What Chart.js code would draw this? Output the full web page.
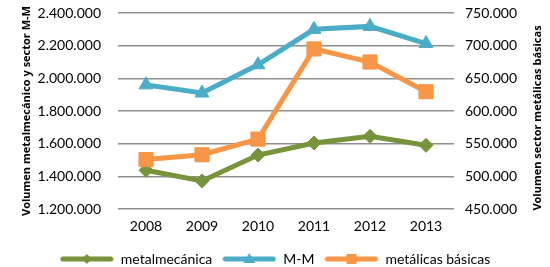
<!DOCTYPE html>
<html lang="es">
<head>
    <meta charset="UTF-8">
    <title>Volumen sector metalmecánico</title>
    <script src="https://cdn.jsdelivr.net/npm/chart.js"></script>
    <style>
        html, body { margin: 0; padding: 0; background: #fff; }
        #chart { display: block; }
    </style>
</head>
<body>
    <canvas id="chart" width="550" height="267"></canvas>

    <script>
        // datos
        const years = ['2008', '2009', '2010', '2011', '2012', '2013'];
        const metalmecanica = [1437000, 1372000, 1530000, 1604000, 1645000, 1590000];
        const mm = [1960000, 1910000, 2083000, 2300000, 2318000, 2213000];
        const metalicasBasicas = [525600, 533000, 557000, 695000, 675000, 629500];

        const green = '#77933C';
        const blue = '#4BACC6';
        const orange = '#F79646';
        const font = "Lato, 'Open Sans', sans-serif";

        function fmt(v) {
            return String(v).replace(/\B(?=(\d{3})+(?!\d))/g, '.');
        }

        // icono de leyenda: línea con marcador en el centro
        function legendIcon(color, style) {
            const c = document.createElement('canvas');
            c.width = 54; c.height = 14;
            const g = c.getContext('2d');
            g.strokeStyle = color;
            g.fillStyle = color;
            g.lineWidth = 5;
            g.lineCap = 'round';
            g.beginPath(); g.moveTo(3, 7); g.lineTo(51, 7); g.stroke();
            g.beginPath();
            if (style === 'rectRot') {
                g.moveTo(27, 2); g.lineTo(32, 7); g.lineTo(27, 12); g.lineTo(22, 7);
            } else if (style === 'triangle') {
                g.moveTo(27, 1); g.lineTo(33, 11); g.lineTo(21, 11);
            } else {
                g.rect(22, 2, 10, 10);
            }
            g.closePath(); g.fill();
            return c;
        }

        const rightTitle = {
            id: 'rightTitle',
            afterDraw(chart) {
                const ctx = chart.ctx;
                const area = chart.chartArea;
                ctx.save();
                ctx.translate(538, (area.top + area.bottom) / 2 + 7);
                ctx.rotate(-Math.PI / 2);
                ctx.font = "bold 11px 'Open Sans', sans-serif";
                ctx.fillStyle = '#000';
                ctx.textAlign = 'center';
                ctx.textBaseline = 'middle';
                ctx.fillText('Volumen sector metálicas básicas', 0, 0);
                ctx.restore();
            }
        };

        new Chart(document.getElementById('chart'), {
            type: 'line',
            data: {
                labels: years,
                datasets: [{
                    label: 'metalmecánica',
                    data: metalmecanica,
                    yAxisID: 'y',
                    borderColor: green,
                    backgroundColor: green,
                    borderWidth: 5,
                    pointStyle: 'rectRot',
                    pointRadius: 7,
                    pointBorderWidth: 1,
                    order: 2
                }, {
                    label: 'M-M',
                    data: mm,
                    yAxisID: 'y',
                    borderColor: blue,
                    backgroundColor: blue,
                    borderWidth: 5,
                    pointStyle: 'triangle',
                    pointRadius: 8,
                    pointBorderWidth: 1,
                    order: 1
                }, {
                    label: 'metálicas básicas',
                    data: metalicasBasicas,
                    yAxisID: 'y1',
                    borderColor: orange,
                    backgroundColor: orange,
                    borderWidth: 5,
                    pointStyle: 'rect',
                    pointRadius: 10,
                    pointBorderWidth: 1,
                    order: 0
                }]
            },
            options: {
                responsive: false,
                animation: false,
                layout: { padding: { top: 13, left: 0, right: 0, bottom: -9 } },
                plugins: {
                    tooltip: { enabled: false },
                    legend: {
                        position: 'bottom',
                        labels: {
                            usePointStyle: true,
                            pointStyleWidth: 54,
                            padding: 10,
                            color: '#000',
                            font: { family: font, size: 14 },
                            generateLabels(chart) {
                                const styles = ['rectRot', 'triangle', 'rect'];
                                return chart.data.datasets.map((ds, i) => ({
                                    text: ds.label,
                                    fillStyle: ds.borderColor,
                                    strokeStyle: ds.borderColor,
                                    pointStyle: legendIcon(ds.borderColor, styles[i]),
                                    datasetIndex: i,
                                    hidden: false,
                                    lineWidth: 0
                                }));
                            }
                        }
                    }
                },
                scales: {
                    x: {
                        offset: true,
                        grid: { display: false, drawTicks: false },
                        border: { display: false },
                        ticks: { color: '#000', padding: 9, font: { family: font, size: 14 } },
                        afterFit(s) { s.height = 33; }
                    },
                    y: {
                        position: 'left',
                        min: 1200000,
                        max: 2400000,
                        grid: { color: '#8f8f8f', lineWidth: 1.5, drawTicks: false },
                        border: { display: false },
                        ticks: {
                            stepSize: 200000,
                            padding: 17,
                            color: '#000',
                            font: { family: font, size: 14 },
                            callback: v => fmt(v)
                        },
                        title: {
                            display: true,
                            text: 'Volumen metalmecánico y sector M-M',
                            color: '#000',
                            padding: { top: 20, bottom: 0 },
                            font: { family: "'Open Sans', sans-serif", size: 11, weight: 'bold' }
                        },
                        afterFit(s) { s.width = 118; s.paddingTop = 0; s.paddingBottom = 0; }
                    },
                    y1: {
                        position: 'right',
                        min: 450000,
                        max: 750000,
                        grid: { display: false, drawTicks: false },
                        border: { display: false },
                        ticks: {
                            stepSize: 50000,
                            padding: 11,
                            color: '#000',
                            font: { family: font, size: 14 },
                            callback: v => fmt(v)
                        },
                        afterFit(s) { s.width = 96; s.paddingTop = 0; s.paddingBottom = 0; }
                    }
                }
            },
            plugins: [rightTitle]
        });
    </script>
</body>
</html>
